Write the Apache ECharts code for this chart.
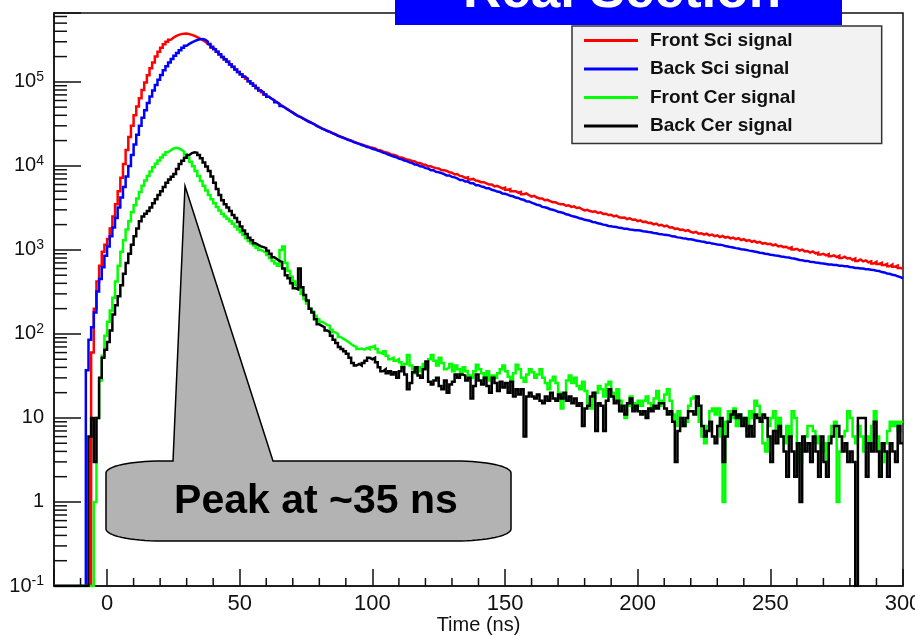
<!DOCTYPE html>
<html><head><meta charset="utf-8">
<script src="https://cdn.jsdelivr.net/npm/echarts@6/dist/echarts.min.js"></script>
<style>html,body{margin:0;padding:0;background:#fff;overflow:hidden;width:915px;height:636px}#c{width:915px;height:636px}</style>
</head><body><div id="c"></div>
<script>
// ---- axis / binning ----
const binStart = -20;      // ns, left edge of first bin
const binWidth = 1;        // ns
const xMin = -20, xMax = 300;
const yMin = 0.1, yMax = 660000;

// ---- bin contents, t = -20 ... 299 ns (one value per 1 ns bin) ----
const frontSci = [
0,0,0,0,0,0,0,0,0,0,
0,0,0,0,60,200,420,650,950,1150,
1350,1800,2500,3500,5000,7200,10500,15500,22000,30000,
40000,51000,64000,80000,98000,120000,145000,170000,200000,228000,
255000,280000,300000,318000,335000,350000,362000,370000,375000,376000,
370000,362000,352000,340000,328000,315000,300000,285000,270000,255000,
243000,228000,212000,198000,185000,173000,162000,150000,140000,131000,
123000,116000,109000,102000,96000,90000,84000,79500,75000,70500,
66500,63500,60500,57500,54500,52000,49500,47500,45000,43000,
41000,39500,38000,36500,35000,34000,32800,31500,30200,29000,
28000,27000,26200,25400,24600,23800,23000,22300,21700,21100,
20500,20000,19400,18900,18400,18000,17500,17100,16700,16400,
16100,15500,15400,14900,14500,14300,13700,13600,13200,12700,
12600,12300,11900,11800,11400,11300,10800,10800,10400,10300,
9900,9900,9600,9400,9300,8900,8900,8700,8400,8300,
7900,8000,7600,7500,7200,7300,6900,7000,6700,6600,
6400,6400,6200,6000,6000,5700,5800,5600,5400,5500,
5200,5300,5000,5000,4800,4900,4600,4700,4500,4300,
4400,4200,4100,4100,3900,3950,3800,3700,3700,3550,
3500,3500,3350,3400,3250,3300,3150,3200,3050,2950,
3000,2900,2850,2880,2750,2800,2680,2700,2600,2620,
2500,2560,2450,2420,2430,2330,2380,2280,2300,2200,
2250,2150,2170,2090,2100,2010,2060,1960,1990,1900,
1950,1850,1860,1780,1800,1730,1750,1680,1720,1640,
1600,1640,1560,1580,1520,1560,1490,1520,1460,1490,
1420,1470,1400,1430,1370,1400,1340,1380,1310,1340,
1280,1310,1250,1280,1220,1250,1190,1210,1170,1180,
1130,1160,1100,1120,1080,1090,1040,1070,1010,1030,
980,1010,960,970,930,960,910,930,880,900,
860,890,840,860,820,850,800,830,790,800,
760,790,740,770,730,750,710,730,690,720,
680,700,660,680,640,670,630,650,610,600
];
const backSci = [
0,0,0,0,0,0,0,0,0,0,
0,0,37,85,120,180,320,450,620,850,
1100,1450,1850,2400,3200,4200,5600,7500,10000,13500,
18000,23500,30000,37500,46000,56000,67000,79000,92000,106000,
121000,137000,153000,170000,187000,204000,221000,238000,254000,269000,
283000,295000,306000,315000,321000,323000,318000,302000,282000,262000,
245000,228000,213000,198000,186000,173000,161000,151000,140000,131000,
123000,115000,109000,102000,95500,90000,84500,79000,75000,70500,
66500,63000,60500,57000,54500,51500,49500,47000,45000,43000,
41000,39000,38000,36500,35000,33500,32500,31500,30000,29000,
27800,27000,26000,25400,24400,23800,22800,22200,21600,21000,
20300,19900,19200,18700,18300,17700,17300,16800,16500,16000,
15700,15200,14900,14400,14100,13600,13300,12900,12700,12200,
12000,11600,11400,11000,10800,10400,10300,9900,9800,9400,
9300,8900,8900,8500,8400,8200,8000,7700,7700,7400,
7300,7100,6800,6800,6500,6500,6200,6200,5900,5900,
5700,5600,5400,5400,5200,5100,4950,4900,4700,4650,
4550,4400,4350,4200,4150,4000,3950,3800,3780,3650,
3550,3450,3400,3250,3220,3150,3050,3000,2930,2850,
2800,2750,2650,2620,2540,2500,2450,2380,2350,2280,
2250,2220,2150,2130,2070,2050,2000,1980,1930,1910,
1880,1870,1830,1820,1780,1780,1750,1740,1710,1710,
1700,1670,1660,1630,1620,1590,1580,1550,1540,1510,
1500,1490,1450,1440,1410,1400,1380,1370,1340,1340,
1320,1290,1280,1260,1250,1220,1220,1190,1180,1160,
1150,1140,1110,1100,1080,1070,1050,1040,1020,1010,
1000,980,970,955,945,925,920,900,895,875,
870,855,850,835,830,815,810,795,790,775,
760,755,740,740,725,720,710,705,695,690,
680,670,670,660,660,650,650,640,640,625,
620,610,610,600,600,590,590,580,575,565,
560,545,540,525,520,505,500,485,475,460
];
const frontCer = [
0,0,0,0,0,0,0,0,0,0,
0,0,0,0,0,1,10,28,55,95,
140,190,270,420,650,950,1300,1750,2200,2800,
3400,4100,4900,5800,6700,7600,8600,9600,10600,11600,
12600,13600,14500,15300,16000,16400,16200,15600,14800,13700,
12500,11200,9900,8700,7600,6600,5800,5100,4500,4000,
3600,3250,2950,2700,2500,2350,2200,2050,1900,1750,
1620,1500,1380,1280,1200,1130,1060,1000,960,930,
870,800,740,690,650,1000,1100,700,560,480,
420,380,340,300,260,230,200,185,165,150,
140,135,128,125,112,105,100,92,88,84,
80,76,72,70,66,67,65,68,66,70,
72,66,60,58,62,55,50,52,48,50,
46,40,44,56,42,38,34,40,36,44,
40,50,56,48,42,52,45,38,40,44,
36,42,38,33,40,36,32,30,36,43,
38,34,30,36,28,32,30,34,38,42,
36,31,28,34,43,38,30,27,33,38,
35,30,33,38,30,26,22,28,31,26,
20,13,19,28,32,26,30,24,22,27,
21,15,13,17,20,24,22,18,25,27,
20,17,22,16,12,10,14,18,15,13,
16,14,16,18,15,13,17,21,14,16,
19,22,16,11,8,12,10,8,9,14,
17,18,15,9,6,5,8,12,13,11,
13,6,1,9,12,10,13,8,11,9,
10,7,12,10,16,14,9,5,4,8,
10,12,7,10,6,5,8,6,12,10,
5,3,4,6,8,8,7,5,6,4,
5,3,6,8,9,1,4,6,7,12,
10,6,5,8,6,4,6,5,8,12,
6,2,3,5,7,9,8,9,7,9
];
const backCer = [
0,0,0,0,0,0,0,0,0,0,
0,0,0,6,10,3,10,30,52,65,
80,110,170,220,280,380,520,700,900,1150,
1450,1800,2200,2500,2700,2900,3200,3600,4000,4500,
5000,5600,6300,6900,7400,8000,9200,10500,11500,12500,
13500,14200,14500,14300,13500,12300,11000,9800,8700,7500,
6300,5300,4500,3900,3500,3200,2900,2600,2400,2150,
1900,1700,1550,1400,1300,1200,1150,1100,1080,1050,
980,900,820,780,740,720,600,500,460,400,
350,340,600,360,290,250,200,180,150,130,
125,120,110,105,95,85,78,70,66,62,
58,52,45,42,44,42,45,48,52,50,
52,46,40,36,38,34,36,33,35,30,
36,40,33,22,26,35,40,32,30,38,
47,27,25,28,30,24,22,28,20,25,
27,33,30,33,32,28,30,17,24,33,
28,25,30,24,20,30,26,21,27,23,
26,20,27,18,22,19,22,6,18,20,
18,17,19,16,15,18,16,20,17,16,
19,17,20,16,18,15,17,14,15,8,
13,14,18,20,7,15,14,7,16,22,
18,15,16,12,14,11,15,17,12,14,
12,11,12,10,13,12,14,13,15,15,
13,11,12,9,3,7,10,8,10,12,
12,11,18,14,8,6,7,9,6,5,
8,10,3,6,9,11,12,10,11,8,
10,6,8,6,11,10,9,11,10,6,
3,7,5,8,6,4,2,6,4,2,
5,1,6,4,5,3,6,4,2,6,
3,2,5,6,8,8,6,4,5,3,
4,3,0,10,10,10,2,5,4,9,
4,2,5,4,2,5,4,3,8,5
];

const seriesNames = ['Front Sci signal', 'Back Sci signal', 'Front Cer signal', 'Back Cer signal'];
const seriesColors = ['#ff0000', '#0000ff', '#00ff00', '#000000'];
const xMinorTicks = [-10,10,20,30,40,60,70,80,90,110,120,130,140,160,170,180,190,210,220,230,240,260,270,280,290];
const yMinorTicks = [0.2,0.3,0.4,0.5,0.6,0.7,0.8,0.9, 2,3,4,5,6,7,8,9, 20,30,40,50,60,70,80,90,
  200,300,400,500,600,700,800,900, 2000,3000,4000,5000,6000,7000,8000,9000,
  20000,30000,40000,50000,60000,70000,80000,90000, 200000,300000,400000,500000,600000];

const FONT = '"Liberation Sans", Arial, Helvetica, sans-serif';

function histPoints(vals) {
  const pts = vals.map((v, i) => [binStart + i * binWidth, v > 0 ? v : yMin]);
  pts.push([binStart + vals.length * binWidth, pts[pts.length - 1][1]]);
  return pts;
}

function ellipsePts(cx, cy, rx, ry, a0, a1, n) {
  const out = [];
  for (let k = 0; k <= n; k++) {
    const a = (a0 + (a1 - a0) * k / n) * Math.PI / 180;
    out.push([cx + rx * Math.cos(a), cy + ry * Math.sin(a)]);
  }
  return out;
}
const callout = [].concat(
  ellipsePts(161, 473, 55, 12, 180, 270, 16),
  [[173, 461], [185, 186], [273, 461]],
  ellipsePts(456, 473, 55, 12, 270, 360, 16),
  ellipsePts(456, 529, 55, 12, 0, 90, 16),
  ellipsePts(161, 529, 55, 12, 90, 180, 16)
);

const allVals = [frontSci, backSci, frontCer, backCer];
const lineSeries = allVals.map((vals, i) => ({
  name: seriesNames[i],
  type: 'line',
  step: 'end',
  data: histPoints(vals),
  showSymbol: false,
  symbol: 'none',
  color: seriesColors[i],
  lineStyle: { color: seriesColors[i], width: 2.5, join: 'miter', cap: 'butt' },
  z: 3 + i,
  animation: false,
  silent: true
}));

const tickStyle = { stroke: '#111', lineWidth: 1.5 };
const minorX = {
  type: 'custom', silent: true, animation: false, z: 10,
  data: xMinorTicks.map(v => [v, yMin]),
  renderItem: (params, api) => {
    const p = api.coord([api.value(0), api.value(1)]);
    return { type: 'line', shape: { x1: p[0], y1: p[1], x2: p[0], y2: p[1] - 8 }, style: tickStyle };
  }
};
const minorY = {
  type: 'custom', silent: true, animation: false, z: 10,
  data: yMinorTicks.map(v => [xMin, v]),
  renderItem: (params, api) => {
    const p = api.coord([api.value(0), api.value(1)]);
    return { type: 'line', shape: { x1: p[0], y1: p[1], x2: p[0] + 13, y2: p[1] }, style: tickStyle };
  }
};

const chart = echarts.init(document.getElementById('c'), null, { renderer: 'canvas', width: 915, height: 636 });
chart.setOption({
  animation: false,
  backgroundColor: '#ffffff',
  textStyle: { fontFamily: FONT },
  grid: { left: 54, right: 12, top: 13, bottom: 50, containLabel: false, outerBoundsMode: 'none',
    show: true, borderColor: '#111', borderWidth: 1.5, backgroundColor: 'transparent' },
  legend: {
    data: seriesNames,
    orient: 'vertical',
    left: 572, top: 26,
    padding: [5, 86, 8, 12],
    itemGap: 9.5,
    itemWidth: 54, itemHeight: 3,
    icon: 'rect',
    backgroundColor: '#f2f2f2',
    borderColor: '#333', borderWidth: 1.5,
    textStyle: { fontSize: 19, fontWeight: 'bold', color: '#111', fontFamily: FONT, padding: [0, 0, 0, 7] }
  },
  xAxis: {
    type: 'value', min: xMin, max: xMax, splitNumber: 6,
    name: 'Time (ns)', nameLocation: 'middle', nameGap: 29, nameMoveOverlap: false,
    nameTextStyle: { fontSize: 20, lineHeight: 20, color: '#111', fontFamily: FONT },
    splitLine: { show: false },
    axisLine: { show: true, onZero: false, lineStyle: { color: '#111', width: 1.5 } },
    axisTick: { show: true, inside: true, length: 17, lineStyle: { color: '#111', width: 1.5 } },
    axisLabel: { fontSize: 22, color: '#111', margin: 7, fontFamily: FONT, hideOverlap: false,
      formatter: v => (v < 0 ? '' : String(v)) }
  },
  yAxis: {
    type: 'log', logBase: 10, min: yMin, max: yMax,
    splitLine: { show: false },
    axisLine: { show: true, onZero: false, lineStyle: { color: '#111', width: 1.5 } },
    axisTick: { show: true, inside: true, length: 27, lineStyle: { color: '#111', width: 1.5 } },
    axisLabel: {
      fontSize: 20, lineHeight: 24, color: '#111', margin: 10, fontFamily: FONT,
      formatter: v => {
        const e = Math.log10(v), r = Math.round(e);
        if (Math.abs(e - r) > 1e-6) return '';
        if (r === 0) return '1';
        if (r === 1) return '10';
        return '10{s|' + r + '}';
      },
      rich: { s: { fontSize: 14, lineHeight: 14, verticalAlign: 'top', color: '#111', fontFamily: FONT } }
    }
  },
  series: lineSeries.concat([minorX, minorY]),
  graphic: [
    { type: 'rect', z: 100, shape: { x: 395, y: 0, width: 447, height: 25 }, style: { fill: '#0000ff' } },
    { type: 'text', z: 101, x: 622, y: -8,
      style: { text: 'Real Section', font: 'bold 53px ' + FONT, fill: '#ffffff',
        align: 'center', verticalAlign: 'middle', textAlign: 'center', textVerticalAlign: 'middle' } },
    { type: 'polygon', z: 100, shape: { points: callout }, style: { fill: '#b3b3b3', stroke: '#000', lineWidth: 1.5 } },
    { type: 'text', z: 101, x: 316, y: 502,
      style: { text: 'Peak at ~35 ns', font: 'bold 41px ' + FONT, fill: '#000',
        align: 'center', verticalAlign: 'middle', textAlign: 'center', textVerticalAlign: 'middle' } }
  ]
});
</script>
</body></html>
